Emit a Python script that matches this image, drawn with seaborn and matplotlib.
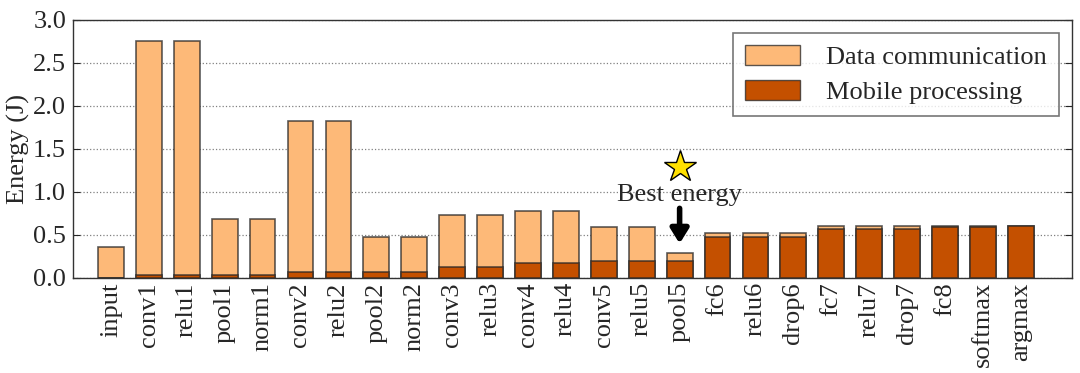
import matplotlib
matplotlib.use("Agg")
import matplotlib.pyplot as plt
import matplotlib.patches as mpatches
import numpy as np
import pandas as pd
import seaborn as sns

LAYERS = [
    "input", "conv1", "relu1", "pool1", "norm1", "conv2", "relu2", "pool2",
    "norm2", "conv3", "relu3", "conv4", "relu4", "conv5", "relu5", "pool5",
    "fc6", "relu6", "drop6", "fc7", "relu7", "drop7", "fc8", "softmax", "argmax",
]
# energy (J) split at each layer
MOBILE = [0.0, 0.03, 0.03, 0.03, 0.03, 0.066, 0.066, 0.072, 0.072, 0.124, 0.124,
          0.17, 0.17, 0.194, 0.194, 0.194, 0.48, 0.48, 0.48, 0.566, 0.566, 0.566,
          0.593, 0.593, 0.6]
COMM = [0.36, 2.72, 2.72, 0.66, 0.66, 1.754, 1.754, 0.405, 0.408, 0.609, 0.609,
        0.61, 0.61, 0.403, 0.403, 0.093, 0.04, 0.04, 0.04, 0.042, 0.042, 0.042,
        0.007, 0.007, 0.0]

LIGHT = "#fdb978"
DARK = "#c45000"
EDGE = (0.15, 0.15, 0.15, 0.75)
FS = 19

df = pd.DataFrame({"layer": LAYERS, "mobile": MOBILE, "comm": COMM})
df["total"] = df["mobile"] + df["comm"]

sns.set_style("ticks")
plt.rcParams["font.family"] = ["Liberation Serif", "DejaVu Serif"]
plt.rcParams["font.size"] = FS

fig = plt.figure(figsize=(10.8, 3.73), dpi=100)
ax = fig.add_axes([0.0676, 0.2547, 0.925, 0.6917])

sns.barplot(data=df, x="layer", y="total", color=LIGHT, saturation=1,
            width=0.68, edgecolor=EDGE, linewidth=1.2, ax=ax, zorder=2)
sns.barplot(data=df, x="layer", y="mobile", color=DARK, saturation=1,
            width=0.68, edgecolor=EDGE, linewidth=1.2, ax=ax, zorder=3)

ax.set_xlim(-1, 25.35)
ax.set_ylim(0, 3.0)
yt = np.arange(0, 3.01, 0.5)
ax.set_yticks(yt)
ax.set_yticklabels([f"{v:.1f}" for v in yt], fontsize=FS)
ax.set_xticks(range(len(LAYERS)))
ax.set_xticklabels(LAYERS, rotation=90, fontsize=FS)
ax.set_xlabel("")
ax.set_ylabel("Energy (J)", fontsize=FS, labelpad=2)
ax.yaxis.grid(True, linestyle=":", color="gray", linewidth=0.9, zorder=0)
ax.set_axisbelow(True)
ax.tick_params(axis="y", direction="in", right=True, length=5, pad=5)
ax.tick_params(axis="x", length=0, pad=3)
for s in ax.spines.values():
    s.set_linewidth(1.0)
    s.set_color("#333333")

# best energy marker at pool5
best = LAYERS.index("pool5")
ax.plot(best, 1.29, marker="*", markersize=24, color="#ffe000",
        markeredgecolor="black", markeredgewidth=1.0, zorder=5)
ax.text(best, 0.97, "Best energy", ha="center", va="center", fontsize=FS, zorder=5)
ax.annotate("", xy=(best, 0.40), xytext=(best, 0.81),
            arrowprops=dict(arrowstyle="-|>,head_width=0.28,head_length=0.45",
                            color="black", lw=4.0, shrinkA=0, shrinkB=0),
            zorder=5)

handles = [
    mpatches.Patch(facecolor=LIGHT, edgecolor=EDGE, label="Data communication"),
    mpatches.Patch(facecolor=DARK, edgecolor=EDGE, label="Mobile processing"),
]
leg = ax.legend(handles=handles, loc="upper right", bbox_to_anchor=(0.987, 0.95),
                fontsize=FS, frameon=True, fancybox=False, handlelength=2.1,
                handleheight=0.8, handletextpad=1.0, labelspacing=0.4,
                borderpad=0.45, borderaxespad=0)
leg.get_frame().set_edgecolor("#555555")
leg.get_frame().set_linewidth(1.2)

fig.savefig("out.png", dpi=100)
